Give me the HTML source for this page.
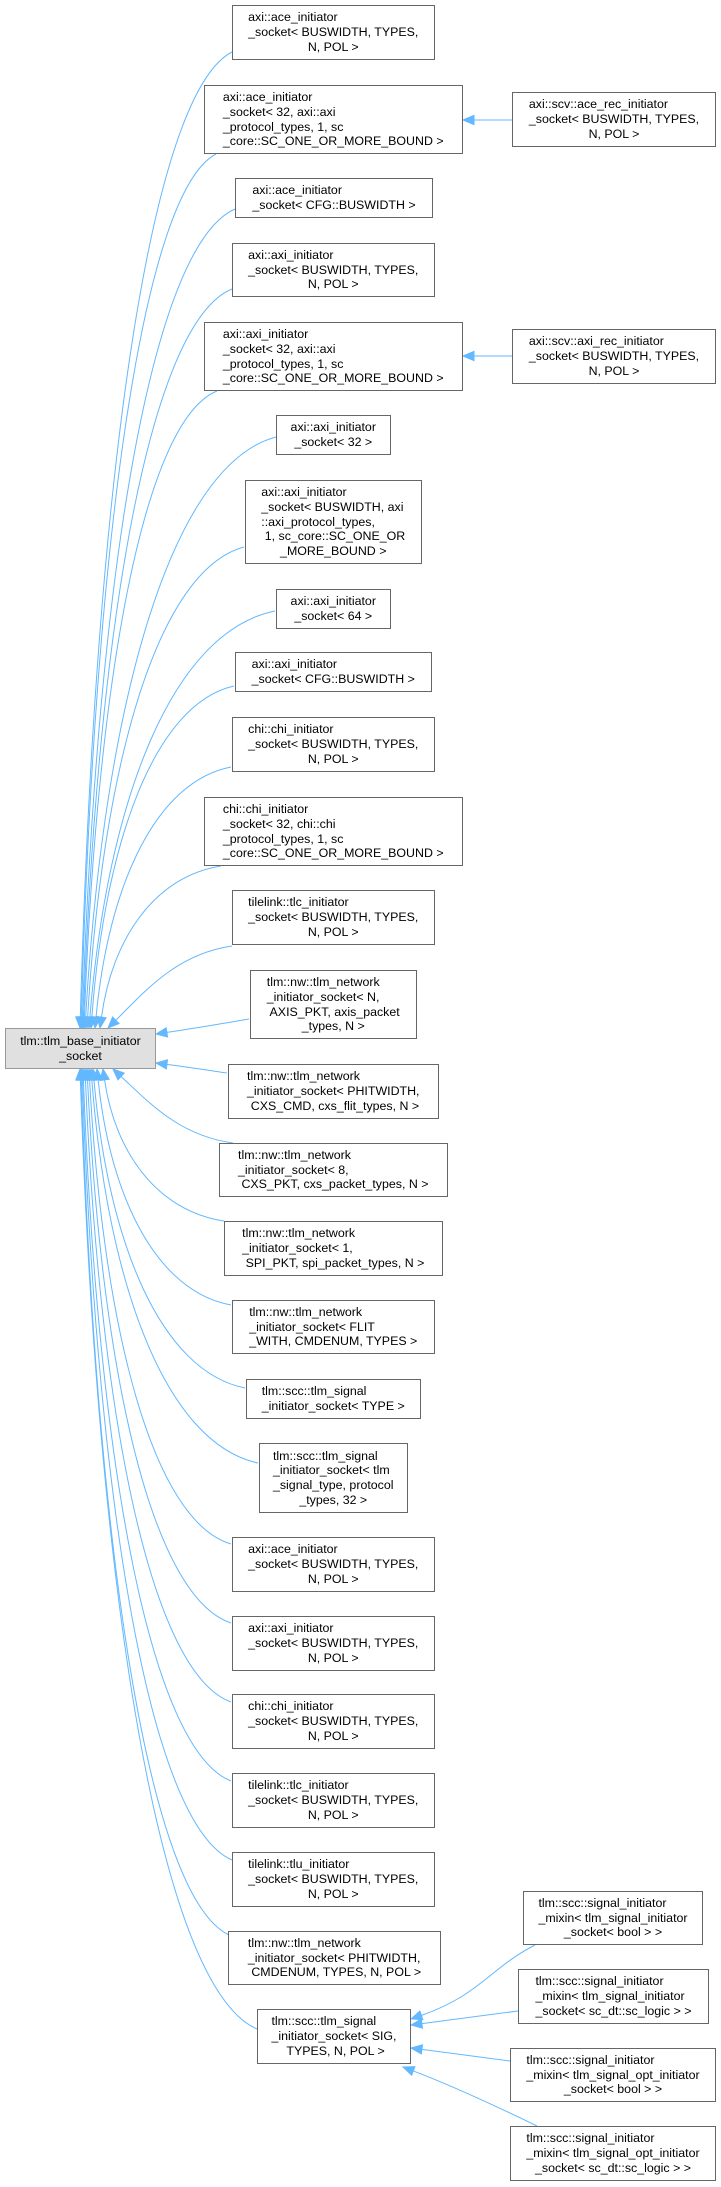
<!DOCTYPE html>
<html><head><meta charset="utf-8">
<style>
html,body{margin:0;padding:0;background:#fff;}
#wrap{position:relative;width:721px;height:2187px;overflow:hidden;}
svg{position:absolute;left:0;top:0;}
.b{position:absolute;box-sizing:border-box;border:1px solid #666;background:#fff;display:flex;align-items:center;justify-content:center;font-family:"Liberation Sans",Arial,sans-serif;font-size:12.4px;line-height:14.7px;color:#000;}
.b.base{background:#e0e0e0;border-color:#999;}
.t{display:inline-block;}
.t div{white-space:pre;text-align:left;}
.t div:last-child{text-align:center;}
</style></head><body>
<div id="wrap">
<svg id="edges" width="721" height="2187" viewBox="0 0 721 2187"></svg>
</div>
<script>
(function(){
var boxes=[
["base",5,1028,156,1069,["tlm::tlm_base_initiator","_socket"]],
["B1",231.5,5,435,60,["axi::ace_initiator","_socket< BUSWIDTH, TYPES,","N, POL >"]],
["B2",203.5,85,463,154,["axi::ace_initiator","_socket< 32, axi::axi","_protocol_types, 1, sc","_core::SC_ONE_OR_MORE_BOUND >"]],
["R1",512,92,716,147,["axi::scv::ace_rec_initiator","_socket< BUSWIDTH, TYPES,","N, POL >"]],
["B3",235,178,433,218,["axi::ace_initiator","_socket< CFG::BUSWIDTH >"]],
["B4",231.5,243,435,297,["axi::axi_initiator","_socket< BUSWIDTH, TYPES,","N, POL >"]],
["B5",203.5,322,463,391,["axi::axi_initiator","_socket< 32, axi::axi","_protocol_types, 1, sc","_core::SC_ONE_OR_MORE_BOUND >"]],
["R2",512,329,716,384,["axi::scv::axi_rec_initiator","_socket< BUSWIDTH, TYPES,","N, POL >"]],
["B6",275.5,415,391,455,["axi::axi_initiator","_socket< 32 >"]],
["B7",244.5,480,422,564,["axi::axi_initiator","_socket< BUSWIDTH, axi","::axi_protocol_types,"," 1, sc_core::SC_ONE_OR","_MORE_BOUND >"]],
["B8",275.5,589,391,629,["axi::axi_initiator","_socket< 64 >"]],
["B9",234.5,652,432,692,["axi::axi_initiator","_socket< CFG::BUSWIDTH >"]],
["B10",231.5,717,435,772,["chi::chi_initiator","_socket< BUSWIDTH, TYPES,","N, POL >"]],
["B11",203.5,797,463,866,["chi::chi_initiator","_socket< 32, chi::chi","_protocol_types, 1, sc","_core::SC_ONE_OR_MORE_BOUND >"]],
["B12",231.5,890,435,945,["tilelink::tlc_initiator","_socket< BUSWIDTH, TYPES,","N, POL >"]],
["B13",249.5,970,417,1039,["tlm::nw::tlm_network","_initiator_socket< N,"," AXIS_PKT, axis_packet","_types, N >"]],
["B14",227.5,1064,439,1119,["tlm::nw::tlm_network","_initiator_socket< PHITWIDTH,"," CXS_CMD, cxs_flit_types, N >"]],
["B15",218.5,1143,448,1197,["tlm::nw::tlm_network","_initiator_socket< 8,"," CXS_PKT, cxs_packet_types, N >"]],
["B16",223.5,1221,443,1276,["tlm::nw::tlm_network","_initiator_socket< 1,"," SPI_PKT, spi_packet_types, N >"]],
["B17",231.5,1300,435,1354,["tlm::nw::tlm_network","_initiator_socket< FLIT","_WITH, CMDENUM, TYPES >"]],
["B18",245.5,1379,421,1419,["tlm::scc::tlm_signal","_initiator_socket< TYPE >"]],
["B19",258.5,1443,408,1513,["tlm::scc::tlm_signal","_initiator_socket< tlm","_signal_type, protocol","_types, 32 >"]],
["B20",231.5,1537,435,1592,["axi::ace_initiator","_socket< BUSWIDTH, TYPES,","N, POL >"]],
["B21",231.5,1616,435,1671,["axi::axi_initiator","_socket< BUSWIDTH, TYPES,","N, POL >"]],
["B22",231.5,1694,435,1749,["chi::chi_initiator","_socket< BUSWIDTH, TYPES,","N, POL >"]],
["B23",231.5,1773,435,1828,["tilelink::tlc_initiator","_socket< BUSWIDTH, TYPES,","N, POL >"]],
["B24",231.5,1852,435,1907,["tilelink::tlu_initiator","_socket< BUSWIDTH, TYPES,","N, POL >"]],
["B25",228,1931,441,1985,["tlm::nw::tlm_network","_initiator_socket< PHITWIDTH,"," CMDENUM, TYPES, N, POL >"]],
["B26",257,2009,411,2064,["tlm::scc::tlm_signal","_initiator_socket< SIG,"," TYPES, N, POL >"]],
["M1",523,1891,703,1945,["tlm::scc::signal_initiator","_mixin< tlm_signal_initiator","_socket< bool > >"]],
["M2",518,1969,709,2024,["tlm::scc::signal_initiator","_mixin< tlm_signal_initiator","_socket< sc_dt::sc_logic > >"]],
["M3",510,2048,716,2102,["tlm::scc::signal_initiator","_mixin< tlm_signal_opt_initiator","_socket< bool > >"]],
["M4",510,2126,716,2181,["tlm::scc::signal_initiator","_mixin< tlm_signal_opt_initiator","_socket< sc_dt::sc_logic > >"]]
];
var wrap=document.getElementById('wrap');
boxes.forEach(function(b){
  var d=document.createElement('div');d.className='b'+(b[0]=='base'?' base':'');
  d.style.left=b[1]+'px';d.style.top=b[2]+'px';d.style.width=(b[3]-b[1])+'px';d.style.height=(b[4]-b[2])+'px';
  var t=document.createElement('div');t.className='t';
  b[5].forEach(function(l){var x=document.createElement('div');x.textContent=l;t.appendChild(x);});
  d.appendChild(t);wrap.appendChild(d);
});
var svg=document.getElementById('edges');var C='#63b8ff';var out='';
function edge(px,py,c1x,c1y,c2x,c2y,tx,ty){
  var dx=tx-c2x,dy=ty-c2y,L=Math.sqrt(dx*dx+dy*dy)||1;var ux=dx/L,uy=dy/L;
  var ex=tx-ux*11,ey=ty-uy*11;var nx=-uy*4.6,ny=ux*4.6;
  out+='<path d="M'+px+','+py+' C'+c1x+','+c1y+' '+c2x+','+c2y+' '+ex+','+ey+'" fill="none" stroke="'+C+'" stroke-width="1"/>';
  out+='<polygon points="'+tx+','+ty+' '+(ex+nx)+','+(ey+ny)+' '+(ex-nx)+','+(ey-ny)+'" fill="'+C+'" stroke="'+C+'"/>';
}
var topE=[[232,52,80],[216,154,81],[235,209,82],[232,289,83],[217,391,84],[276,437,85],[244,547,87],[275,611,89],[234,686,91],[231,767,95],[221,866,100],[232,946,108]];
topE.forEach(function(e){var px=e[0],py=e[1],tx=e[2],ty=1028,dy=ty-py;
  var c1x=tx+(px-tx)*0.45,c1y=py+dy*0.04+4,c2x=tx+(px-tx)*0.1,c2y=py+dy*0.45;
  if(dy<120){c1x=tx+(px-tx)*0.55;c1y=py+dy*0.1;c2x=tx+(px-tx)*0.3;c2y=py+dy*0.55;}
  edge(px,py,c1x,c1y,c2x,c2y,tx,ty);});
var botE=[[233,1143,113],[224,1221,103],[231,1305,97],[245,1388,93],[258,1463,91],[231,1544,89],[231,1623,87],[231,1702,85],[231,1781,83],[232,1860,82],[229,1935,81],[257,2029,80]];
botE.forEach(function(e){var px=e[0],py=e[1],tx=e[2],ty=1069,dy=py-ty;
  var c1x=tx+(px-tx)*0.45,c1y=py-dy*0.04-4,c2x=tx+(px-tx)*0.1,c2y=py-dy*0.45;
  if(dy<120){c1x=tx+(px-tx)*0.55;c1y=py-dy*0.1;c2x=tx+(px-tx)*0.3;c2y=py-dy*0.55;}
  edge(px,py,c1x,c1y,c2x,c2y,tx,ty);});
edge(249,1019,220,1024,190,1029,156,1034);
edge(227,1073,200,1069,180,1066,156,1063);
edge(512,120,495,120,480,120,463,120);
edge(512,356,495,356,480,356,463,356);
edge(535,1945,490,1968,480,1995,411,2019);
edge(518,2011,480,2016,450,2020,411,2025);
edge(510,2061,480,2057,450,2053,411,2048);
edge(537,2126,500,2108,450,2085,403,2067);
svg.innerHTML=out;
})();
</script>
</body></html>
